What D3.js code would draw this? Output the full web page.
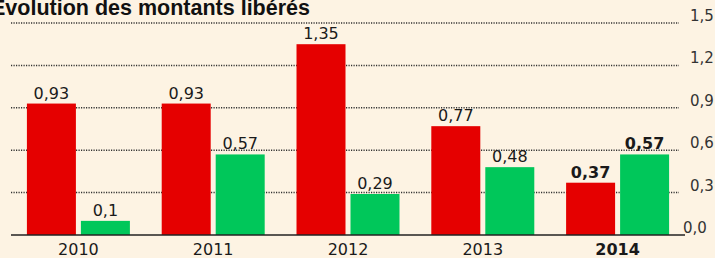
<!DOCTYPE html>
<html>
<head>
<meta charset="utf-8">
<script src="https://cdn.jsdelivr.net/npm/d3@7"></script>
<style>
  html, body { margin: 0; padding: 0; background: #fdf3e3; }
  svg { display: block; }
</style>
</head>
<body>
<script>
var years = ["2010", "2011", "2012", "2013", "2014"];
var series = ["a", "b"];
var redValues = [0.93, 0.93, 1.35, 0.77, 0.37];
var greenValues = [0.1, 0.57, 0.29, 0.48, 0.57];
var yTicks = [0, 0.3, 0.6, 0.9, 1.2, 1.5];
var title = "Évolution des montants libérés";

var width = 715, height = 258;
var colors = { a: "#e50000", b: "#00c75a" };
var fmt = function(v) { return String(v).replace(".", ","); };
var fmtTick = function(v) { return v.toFixed(1).replace(".", ","); };

var svg = d3.select("body")
  .append("svg")
    .attr("width", width)
    .attr("height", height)
    .style("background", "#fdf3e3");

var x = d3.scaleBand()
  .domain(years)
  .range([11, 685])
  .paddingInner(0.236)
  .paddingOuter(0.118);

var xs = d3.scaleBand()
  .domain(series)
  .range([0, x.bandwidth()])
  .paddingInner(5 / 54);

var y = d3.scaleLinear()
  .domain([0, 1.5])
  .range([235, 23]);

// title, cut at the top like the source
svg.append("text")
  .attr("x", -9)
  .attr("y", 15)
  .style("font-family", "Liberation Sans, Arial, sans-serif")
  .style("font-weight", "bold")
  .style("font-size", "21.5px")
  .style("fill", "#111")
  .text(title);

// dotted grid
svg.selectAll(".grid")
  .data(yTicks.filter(function(d) { return d > 0; }))
  .enter().append("line")
    .attr("class", "grid")
    .attr("x1", 11)
    .attr("x2", 679)
    .attr("y1", function(d) { return y(d); })
    .attr("y2", function(d) { return y(d); })
    .style("stroke", "#333")
    .style("stroke-width", 1.5)
    .style("stroke-dasharray", "1.2,1.3");

// right-hand tick labels
svg.selectAll(".ytick")
  .data(yTicks)
  .enter().append("text")
    .attr("class", "ytick")
    .attr("x", function(d) { return d === 0 ? 683 : 690; })
    .attr("y", function(d) { return y(d) - 2; })
    .style("font-family", "DejaVu Sans, sans-serif")
    .style("font-size", "15px")
    .style("fill", "#333")
    .text(fmtTick);

var rows = years.map(function(yr, i) {
  return { year: yr, i: i, vals: [
    { key: "a", v: redValues[i] },
    { key: "b", v: greenValues[i] }
  ] };
});

var g = svg.selectAll(".group")
  .data(rows)
  .enter().append("g")
    .attr("class", "group")
    .attr("transform", function(d) { return "translate(" + x(d.year) + ",0)"; });

g.selectAll("rect")
  .data(function(d) { return d.vals; })
  .enter().append("rect")
    .attr("x", function(d) { return xs(d.key); })
    .attr("y", function(d) { return y(d.v); })
    .attr("width", xs.bandwidth())
    .attr("height", function(d) { return y(0) - y(d.v); })
    .style("fill", function(d) { return colors[d.key]; });

g.selectAll(".val")
  .data(function(d) { return d.vals.map(function(v) { return { key: v.key, v: v.v, last: d.i === years.length - 1 }; }); })
  .enter().append("text")
    .attr("class", "val")
    .attr("x", function(d) { return xs(d.key) + xs.bandwidth() / 2; })
    .attr("y", function(d) { return y(d.v) - 5; })
    .attr("text-anchor", "middle")
    .style("font-family", "DejaVu Sans, sans-serif")
    .style("font-size", "16px")
    .style("font-weight", function(d) { return d.last ? "bold" : "normal"; })
    .style("fill", "#1a1a1a")
    .text(function(d) { return fmt(d.v); });

// baseline
svg.append("line")
  .attr("x1", 11)
  .attr("x2", 685)
  .attr("y1", y(0))
  .attr("y2", y(0))
  .style("stroke", "#222")
  .style("stroke-width", 1.5);

// year labels
g.append("text")
  .attr("x", x.bandwidth() / 2)
  .attr("y", 255)
  .attr("text-anchor", "middle")
  .style("font-family", "DejaVu Sans, sans-serif")
  .style("font-size", "16px")
  .style("font-weight", function(d) { return d.i === years.length - 1 ? "bold" : "normal"; })
  .style("fill", "#1a1a1a")
  .text(function(d) { return d.year; });
</script>
</body>
</html>
